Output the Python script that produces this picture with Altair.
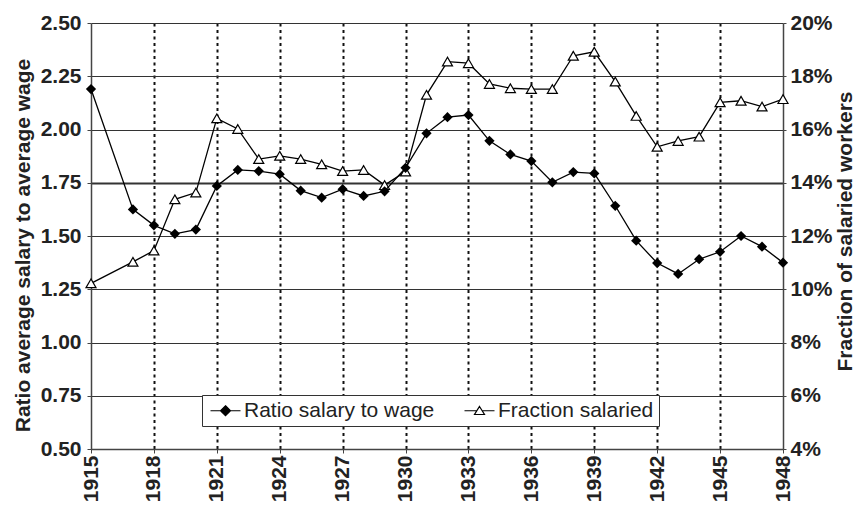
import altair as alt
import pandas as pd

# ---- data ----
years = [1915, 1917, 1918, 1919, 1920,
         1921, 1922, 1923, 1924, 1925, 1926, 1927, 1928, 1929, 1930,
         1931, 1932, 1933, 1934, 1935, 1936, 1937, 1938, 1939, 1940,
         1941, 1942, 1943, 1944, 1945, 1946, 1947, 1948]
ratio = [2.19, 1.625, 1.55, 1.51, 1.53,
         1.735, 1.81, 1.805, 1.79, 1.713, 1.68, 1.72, 1.688, 1.71, 1.82,
         1.982, 2.058, 2.068, 1.947, 1.883, 1.852, 1.752, 1.80, 1.794, 1.642,
         1.478, 1.373, 1.322, 1.391, 1.426, 1.50, 1.45, 1.375]
fraction_pct = [10.22, 11.03, 11.45, 13.38, 13.63,
                16.42, 16.02, 14.89, 15.01, 14.89, 14.69, 14.44, 14.48, 13.91, 14.42,
                17.30, 18.55, 18.49, 17.71, 17.55, 17.52, 17.52, 18.77, 18.92, 17.80,
                16.51, 15.35, 15.57, 15.73, 17.02, 17.08, 16.86, 17.14]
x_ticks = [1915, 1918, 1921, 1924, 1927, 1930, 1933, 1936, 1939, 1942, 1945, 1948]
ratio_ticks = [0.5, 0.75, 1.0, 1.25, 1.5, 1.75, 2.0, 2.25, 2.5]
frac_ticks = [0.04, 0.06, 0.08, 0.10, 0.12, 0.14, 0.16, 0.18, 0.20]
series_names = ["Ratio salary to wage", "Fraction salaried"]

df = pd.DataFrame({"year": years, "ratio": ratio,
                   "frac": [v / 100 for v in fraction_pct]})
legend_df = pd.DataFrame({"series": series_names})

FONT = "Liberation Sans"
TXT = "#222222"

# legend symbols: a line with a diamond / hollow triangle on it
diamond_sym = "M-3,0H3M0,-1L1,0L0,1L-1,0Z"
triangle_sym = "M-3,0H-0.53M0.53,0H3M0,-0.85L1,0.75L-1,0.75Z"

x_enc = alt.X(
    "year:Q",
    scale=alt.Scale(domain=[1915, 1948], nice=False, zero=False),
    axis=alt.Axis(
        values=x_ticks, format="d", labelAngle=270, title=None,
        grid=True, gridDash=[3, 3.5], gridWidth=2, gridColor="#111111",
        gridOpacity={"condition": {"test": "datum.value == 1915 || datum.value == 1948", "value": 0}, "value": 1},
        tickSize=4, tickColor="#444444", domainColor="#444444", domainWidth=1.5,
        labelPadding=2, labelFont=FONT, labelFontSize=21, labelFontWeight="bold",
        labelColor=TXT, labelOverlap=False,
    ),
)

y_ratio = alt.Y(
    "ratio:Q",
    scale=alt.Scale(domain=[0.5, 2.5], nice=False, zero=False),
    axis=alt.Axis(
        orient="left", values=ratio_ticks, format=".2f",
        title="Ratio average salary to average wage",
        grid=True, gridColor="#333333",
        gridWidth={"condition": {"test": "datum.value == 1.75", "value": 1.8}, "value": 1},
        tickSize=4, tickColor="#444444", domainColor="#444444", domainWidth=1.5,
        labelPadding=6, labelFont=FONT, labelFontSize=21, labelFontWeight="bold",
        labelColor=TXT, labelOverlap=False,
        titleFont=FONT, titleFontSize=21, titleFontWeight="bold", titleColor=TXT,
        titlePadding=7, titleY=222,
    ),
)

y_frac = alt.Y(
    "frac:Q",
    scale=alt.Scale(domain=[0.04, 0.20], nice=False, zero=False),
    axis=alt.Axis(
        orient="right", values=frac_ticks, format=".0%",
        title="Fraction of salaried workers",
        grid=False, tickSize=3, tickColor="#444444",
        domainColor="#444444", domainWidth=1.5,
        labelPadding=4, labelFont=FONT, labelFontSize=21, labelFontWeight="bold",
        labelColor=TXT, labelOverlap=False,
        titleFont=FONT, titleFontSize=21, titleFontWeight="bold", titleColor=TXT,
        titleAngle=270, titleBaseline="top", titlePadding=2, titleY=208,
    ),
)

base = alt.Chart(df)

frac_line = base.mark_line(color="black", strokeWidth=1.3).encode(x=x_enc, y=y_frac)
frac_pts = base.mark_point(shape="triangle-up", filled=True, fill="white",
                           stroke="black", strokeWidth=1.2, size=100,
                           opacity=1).encode(x=x_enc, y=y_frac)

leg = alt.Legend(
    title=None, orient="none", legendX=111, legendY=372, direction="horizontal",
    labelFont=FONT, labelFontSize=21, labelColor=TXT, labelLimit=400,
    symbolSize=100, symbolStrokeWidth=1.2, symbolStrokeColor="black",
    symbolOpacity=1, symbolOffset=8, labelOffset=8, columnPadding=26,
    padding=5, strokeColor="#333333", fillColor="white",
)
legend_layer = alt.Chart(legend_df).transform_filter("false").mark_point(
    filled=False, strokeWidth=1.2, opacity=1
).encode(
    shape=alt.Shape("series:N", scale=alt.Scale(domain=series_names,
                                                range=[diamond_sym, triangle_sym]), legend=leg),
    fill=alt.Fill("series:N", scale=alt.Scale(domain=series_names,
                                              range=["black", "white"]), legend=leg),
    stroke=alt.Stroke("series:N", scale=alt.Scale(domain=series_names,
                                                  range=["black", "black"]), legend=leg),
)

ratio_line = base.mark_line(color="black", strokeWidth=1.3).encode(x=x_enc, y=y_ratio)
ratio_pts = base.mark_point(shape="diamond", filled=True, color="black",
                            size=105, opacity=1).encode(x=x_enc, y=y_ratio)

right = alt.layer(frac_line, frac_pts, legend_layer)
left = alt.layer(ratio_line, ratio_pts)

chart = alt.layer(right, left).resolve_scale(y="independent").properties(
    width=692, height=426,
    padding={"left": 4, "top": 4, "right": 0, "bottom": 0},
    background="white",
).configure_view(stroke=None)

chart.save("out.html", embed_options={"renderer": "svg", "actions": False})
